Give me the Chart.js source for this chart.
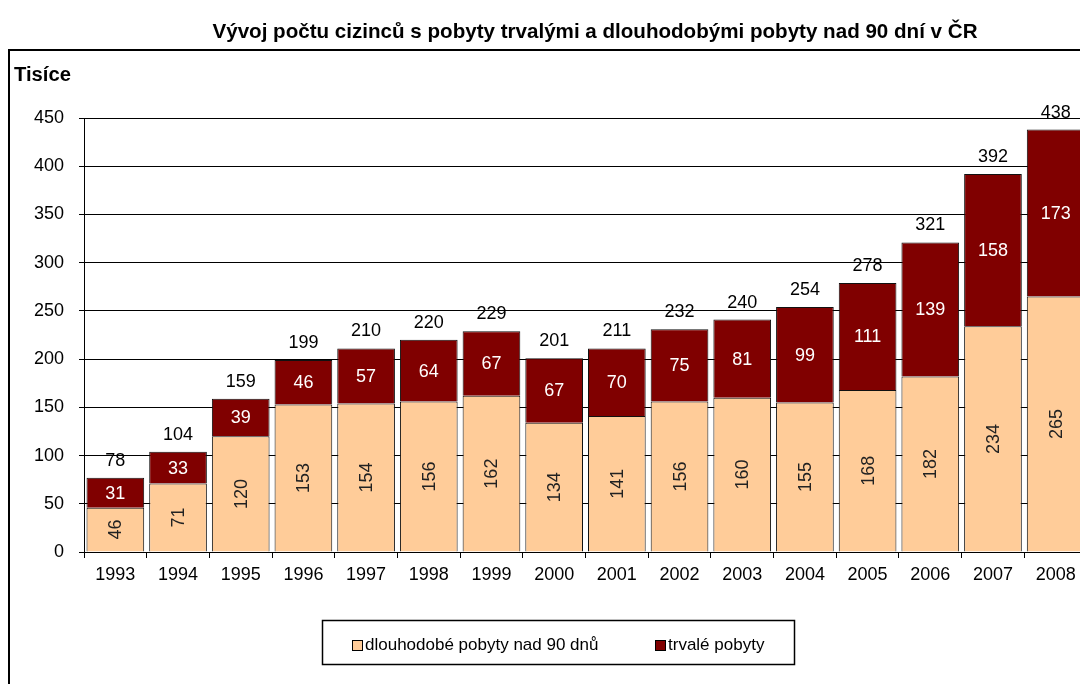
<!DOCTYPE html>
<html><head><meta charset="utf-8">
<script src="https://cdn.jsdelivr.net/npm/chart.js@4.4.0/dist/chart.umd.min.js"></script>
<style>
html,body{margin:0;padding:0;background:#fff;overflow:hidden;width:1080px;height:684px}
#wrap{position:absolute;left:0;top:0;width:1120px;height:684px}
</style></head><body><div id="wrap"><canvas id="c" width="1120" height="684"></canvas></div>
<script>
const years = ['1993','1994','1995','1996','1997','1998','1999','2000','2001','2002','2003','2004','2005','2006','2007','2008'];
const longTerm = [46,71,120,153,154,156,162,134,141,156,160,155,168,182,234,265];
const permanent = [31,33,39,46,57,64,67,67,70,75,81,99,111,139,158,173];
const totals = [78,104,159,199,210,220,229,201,211,232,240,254,278,321,392,438];
const seriesNames = ['dlouhodobé pobyty nad 90 dnů','trvalé pobyty'];
const titleText = 'Vývoj počtu cizinců s pobyty trvalými a dlouhodobými pobyty nad 90 dní v ČR';
const unitLabel = 'Tisíce';
const yMax = 450;
const yStep = 50;

const PEACH = '#FFCC99';
const MAROON = '#800000';
const FONT = '"Liberation Sans", Arial, sans-serif';
const NARROW = '"Liberation Sans Narrow", "Liberation Sans", Arial, sans-serif';

function fitText(ctx, text, x, y, targetW, align){
  const w = ctx.measureText(text).width;
  const sx = targetW / w;
  ctx.save();
  ctx.translate(x, y);
  ctx.scale(sx, 1);
  ctx.textAlign = align;
  ctx.fillText(text, 0, 0);
  ctx.restore();
}

const deco = {
  id: 'deco',
  beforeDraw(chart){
    const ctx = chart.ctx;
    ctx.save();
    ctx.fillStyle = '#fff';
    ctx.fillRect(0, 0, chart.width, chart.height);
    ctx.strokeStyle = '#000';
    ctx.lineWidth = 2;
    ctx.strokeRect(9, 50, 3000, 3000);
    // title
    ctx.fillStyle = '#000';
    ctx.font = 'bold 21px ' + NARROW;
    ctx.textBaseline = 'middle';
    fitText(ctx, titleText, 595, 32, 765, 'center');
    // unit label
    ctx.font = 'bold 20px ' + FONT;
    fitText(ctx, unitLabel, 14, 75, 57, 'left');
    ctx.restore();
  },
  afterDatasetsDraw(chart){
    const ctx = chart.ctx;
    ctx.save();
    ctx.font = '18px ' + FONT;
    ctx.textBaseline = 'middle';
    ctx.textAlign = 'center';
    const m0 = chart.getDatasetMeta(0);
    const m1 = chart.getDatasetMeta(1);
    m0.data.forEach((el, i) => {
      const cy = (el.y + el.base) / 2;
      ctx.save();
      ctx.translate(el.x, cy);
      ctx.rotate(-Math.PI / 2);
      ctx.fillStyle = '#222';
      ctx.fillText(String(longTerm[i]), 0, 1);
      ctx.restore();
    });
    m1.data.forEach((el, i) => {
      const cy = (el.y + el.base) / 2;
      ctx.fillStyle = '#fff';
      ctx.fillText(String(permanent[i]), el.x, cy + 1);
      ctx.fillStyle = '#000';
      ctx.fillText(String(totals[i]), el.x, el.y - 17);
    });
    ctx.restore();
  },
  afterDraw(chart){
    const ctx = chart.ctx;
    ctx.save();
    ctx.strokeStyle = '#000';
    ctx.lineWidth = 1.5;
    ctx.strokeRect(322.5, 620.5, 472, 44);
    ctx.font = '17px ' + FONT;
    ctx.textBaseline = 'middle';
    ctx.textAlign = 'left';
    const items = [[352, PEACH, seriesNames[0]], [655, MAROON, seriesNames[1]]];
    items.forEach(([x, col, txt]) => {
      ctx.fillStyle = col;
      ctx.fillRect(x, 640, 11, 11);
      ctx.lineWidth = 1;
      ctx.strokeStyle = '#000';
      ctx.strokeRect(x + 0.5, 640.5, 10, 10);
      ctx.fillStyle = '#000';
      ctx.fillText(txt, x + 13, 645);
    });
    ctx.restore();
  }
};

new Chart(document.getElementById('c'), {
  type: 'bar',
  data: {
    labels: years,
    datasets: [
      { label: seriesNames[0], data: longTerm, backgroundColor: PEACH, borderColor: '#111', borderWidth: 1, barPercentage: 0.92, categoryPercentage: 1.0 },
      { label: seriesNames[1], data: permanent, backgroundColor: MAROON, borderColor: '#111', borderWidth: 1, barPercentage: 0.92, categoryPercentage: 1.0 }
    ]
  },
  options: {
    responsive: false,
    animation: false,
    devicePixelRatio: 1,
    layout: { padding: { top: 118, left: 0, right: 33, bottom: 92 } },
    plugins: { legend: { display: false }, title: { display: false }, tooltip: { enabled: false } },
    scales: {
      x: {
        stacked: true,
        grid: { display: true, drawOnChartArea: false, drawTicks: true, tickLength: 6, color: '#000', offset: true },
        border: { display: true, color: '#000', width: 1 },
        ticks: { color: '#000', font: { family: FONT, size: 18 }, padding: 6, maxRotation: 0, autoSkip: false },
        afterFit(s){ s.height = 40; }
      },
      y: {
        stacked: true,
        min: 0, max: yMax,
        grid: { color: '#000', lineWidth: 1, tickLength: 5, drawTicks: true },
        border: { display: true, color: '#000', width: 1 },
        ticks: { stepSize: yStep, color: '#000', font: { family: FONT, size: 18 }, padding: 15 },
        afterFit(s){ s.width = 84; }
      }
    }
  },
  plugins: [deco]
});
</script>
</body></html>
